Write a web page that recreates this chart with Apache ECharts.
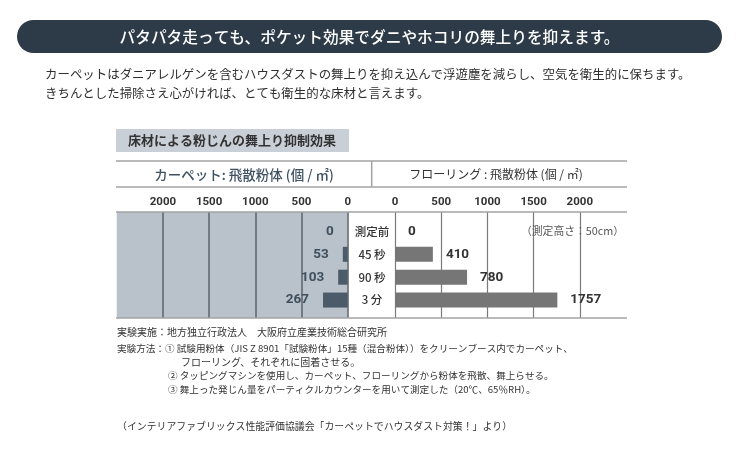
<!DOCTYPE html>
<html>
<head>
<meta charset="utf-8">
<script src="https://cdn.jsdelivr.net/npm/echarts@6/dist/echarts.min.js"></script>
<style>
html,body{margin:0;padding:0;background:#fff;}
#c{width:740px;height:461px;}
</style>
</head>
<body>
<div id="c"></div>
<script>
const categories = ['測定前', '45 秒', '90 秒', '3 分'];
const carpetValues = [0, 53, 103, 267];
const flooringValues = [0, 410, 780, 1757];
const tickLabels = [0, 500, 1000, 1500, 2000];
const axisMax = 2500;
const axisStep = 500;

const FF = '"Noto Sans CJK JP", "Noto Sans", sans-serif';
const NUM = 'Roboto, "Noto Sans CJK JP", sans-serif';
const chart = echarts.init(document.getElementById('c'), null, {renderer: 'canvas'});

const L = 116.7, W = 231, R = 395;
const BG_TOP = 212, BG_H = 106, BAR_TOP = 220, BAR_H = 91.5;

function tickFmt(v) { return tickLabels.indexOf(v) >= 0 ? String(v) : ''; }

function txt(x, y, text, size, color, opts) {
  opts = opts || {};
  return {
    type: 'text', x: x, y: y, z: 100,
    style: {
      text: text, fill: color,
      font: (opts.weight || 'normal') + ' ' + size + 'px ' + FF,
      textAlign: opts.align || 'left', textVerticalAlign: 'middle'
    }
  };
}
function hline(y, x1, x2, color, w) {
  return {type: 'line', z: 100, shape: {x1: x1, y1: y, x2: x2, y2: y}, style: {stroke: color, lineWidth: w}};
}

const graphic = [
  {type: 'rect', z: 100, shape: {x: 17, y: 20, width: 705, height: 33, r: 16.5}, style: {fill: '#2c3b47'}},
  txt(369.5, 37, 'パタパタ走っても、ポケット効果でダニやホコリの舞上りを抑えます。', 15.7, '#ffffff', {align: 'center', weight: 500}),
  txt(45, 74, 'カーペットはダニアレルゲンを含むハウスダストの舞上りを抑え込んで浮遊塵を減らし、空気を衛生的に保ちます。', 12.45, '#2e2e2e'),
  txt(45, 93, 'きちんとした掃除さえ心がければ、とても衛生的な床材と言えます。', 12.45, '#2e2e2e'),
  {type: 'rect', z: 100, shape: {x: 116, y: 129, width: 233, height: 23}, style: {fill: '#c9cfd6'}},
  txt(128, 140.5, '床材による粉じんの舞上り抑制効果', 13, '#333333', {weight: 600}),
  hline(161, 116, 627, '#a3a3a3', 1.5),
  hline(187, 116, 627, '#a3a3a3', 1.5),
  hline(212, 116, 627, '#a3a3a3', 1.5),
  hline(318, 116, 627, '#a3a3a3', 1.5),
  {type: 'line', z: 100, shape: {x1: 371.7, y1: 161, x2: 371.7, y2: 187}, style: {stroke: '#a3a3a3', lineWidth: 1.5}},
  txt(244, 174.5, 'カーペット: 飛散粉体 (個 / ㎡)', 13.5, '#3f5262', {align: 'center', weight: 500}),
  txt(496, 174, 'フローリング : 飛散粉体 (個 / ㎡)', 12, '#333333', {align: 'center'}),
  txt(521, 231, '（測定高さ：50cm）', 10.8, '#555555'),
  txt(117, 332.5, '実験実施：地方独立行政法人　大阪府立産業技術総合研究所', 10, '#333333'),
  txt(117, 348.5, '実験方法：① 試験用粉体（JIS Z 8901「試験粉体」15種（混合粉体））をクリーンブース内でカーペット、', 9.6, '#333333'),
  txt(181, 362.5, 'フローリング、それぞれに固着させる。', 10, '#333333'),
  txt(168, 375.5, '② タッピングマシンを使用し、カーペット、フローリングから粉体を飛散、舞上らせる。', 9.6, '#333333'),
  txt(168, 389, '③ 舞上った発じん量をパーティクルカウンターを用いて測定した（20℃、65％RH）。', 9.6, '#333333'),
  txt(117, 426.5, '（インテリアファブリックス性能評価協議会「カーペットでハウスダスト対策！」より）', 9.9, '#333333')
];

const option = {
  animation: false,
  backgroundColor: '#ffffff',
  textStyle: {fontFamily: FF},
  graphic: graphic,
  grid: [
    {left: L, top: BG_TOP, width: W, height: BG_H, show: true, backgroundColor: '#b9c2cb', borderWidth: 0},
    {left: L, top: BAR_TOP, width: W, height: BAR_H},
    {left: R, top: BG_TOP, width: W, height: BG_H, show: false},
    {left: R, top: BAR_TOP, width: W, height: BAR_H}
  ],
  xAxis: [
    {
      type: 'value', gridIndex: 0, inverse: true, min: 0, max: axisMax, interval: axisStep, position: 'top',
      axisLine: {show: false}, axisTick: {show: false},
      axisLabel: {formatter: tickFmt, color: '#333', fontSize: 11.5, fontWeight: 'bold', margin: 4, fontFamily: NUM},
      splitLine: {show: true, showMaxLine: false, lineStyle: {color: '#5c6268', width: 1.5}}
    },
    {type: 'value', gridIndex: 1, inverse: true, min: 0, max: axisMax, show: false},
    {
      type: 'value', gridIndex: 2, min: 0, max: axisMax, interval: axisStep, position: 'top',
      axisLine: {show: false}, axisTick: {show: false},
      axisLabel: {formatter: tickFmt, color: '#333', fontSize: 11.5, fontWeight: 'bold', margin: 4, fontFamily: NUM},
      splitLine: {show: true, showMaxLine: false, lineStyle: {color: '#7a7a7a', width: 1.2}}
    },
    {type: 'value', gridIndex: 3, min: 0, max: axisMax, show: false}
  ],
  yAxis: [
    {type: 'value', gridIndex: 0, show: false},
    {type: 'category', gridIndex: 1, inverse: true, data: categories, show: false},
    {type: 'value', gridIndex: 2, show: false},
    {
      type: 'category', gridIndex: 3, inverse: true, data: categories, position: 'left',
      axisLine: {show: false}, axisTick: {show: false},
      axisLabel: {color: '#333', fontSize: 11.5, fontWeight: 500, margin: 23, align: 'center', fontFamily: FF}
    }
  ],
  series: [
    {
      type: 'bar', xAxisIndex: 1, yAxisIndex: 1, data: carpetValues, barWidth: 15,
      itemStyle: {color: '#4b5b69'},
      label: {show: true, position: 'left', distance: 14, color: '#3f4f5d', fontSize: 13.5, fontWeight: 'bold', fontFamily: NUM}
    },
    {
      type: 'bar', xAxisIndex: 3, yAxisIndex: 3, data: flooringValues, barWidth: 15,
      itemStyle: {color: '#767676'},
      label: {show: true, position: 'right', distance: 13, color: '#333', fontSize: 13.5, fontWeight: 'bold', fontFamily: NUM}
    }
  ]
};
chart.setOption(option);
</script>
</body>
</html>
